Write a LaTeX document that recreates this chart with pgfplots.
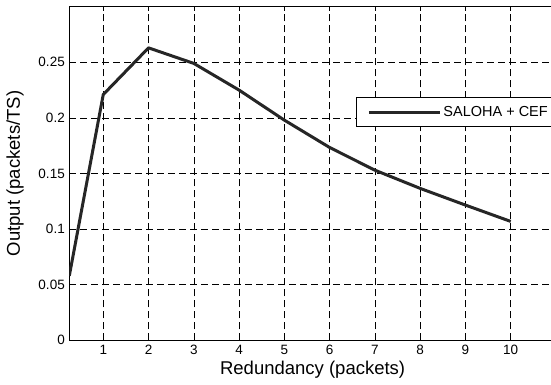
\documentclass[border=0pt]{standalone}
\usepackage{pgfplots}
\pgfplotsset{compat=1.18}
\usepackage{fontspec}
\setmainfont{Liberation Sans}
\usetikzlibrary{calc}
\begin{document}
\begin{tikzpicture}
\begin{axis}[
  scale only axis,
  width=486.7pt, height=333.6pt,
  xmin=0.25, xmax=11, ymin=0, ymax=0.3,
  xtick={1,2,3,4,5,6,7,8,9,10},
  ytick={0,0.05,0.1,0.15,0.2,0.25},
  yticklabels={0,0.05,0.1,0.15,0.2,0.25},
  /pgf/number format/assume math mode=true,
  tick align=inside,
  major tick length=4pt,
  tick style={black, line width=0.6pt},
  axis line style={black, line width=0.9pt},
  grid=major,
  major grid style={black, line width=0.5pt, dash pattern=on 7pt off 4pt},
  ticklabel style={font=\fontsize{13.5}{15}\selectfont},
  xticklabel style={yshift=-1.5pt},
  yticklabel style={xshift=-1pt},
  xlabel={Redundancy (packets)},
  ylabel={Output (packets/TS)},
  label style={font=\fontsize{18.5}{20}\selectfont},
  xlabel style={yshift=1pt},
  ylabel style={yshift=8pt},
  legend style={at={(0.589,0.730)}, anchor=north west, draw=black, line width=0.9pt,
    font=\fontsize{14.5}{16}\selectfont, inner xsep=11pt, inner ysep=7pt},
  legend cell align=left,
]
\addplot[color=black!85, line width=3pt, line join=round,
  legend image code/.code={\draw[black!85, line width=3pt] (0pt,0pt) -- (71pt,0pt);}] coordinates {
  (0.25,0.058) (1,0.221) (2,0.263) (3,0.249) (4,0.225) (5,0.198)
  (6,0.1734) (7,0.153) (8,0.1366) (9,0.1216) (10,0.1069)
};
\addlegendentry{SALOHA + CEF\hspace{30pt}}
\end{axis}
\pgfresetboundingbox
\useasboundingbox ($(current axis.south west)+(-69.3pt,-43.7pt)$) rectangle ($(current axis.south west)+(481.7pt,340.3pt)$);
\end{tikzpicture}
\end{document}
